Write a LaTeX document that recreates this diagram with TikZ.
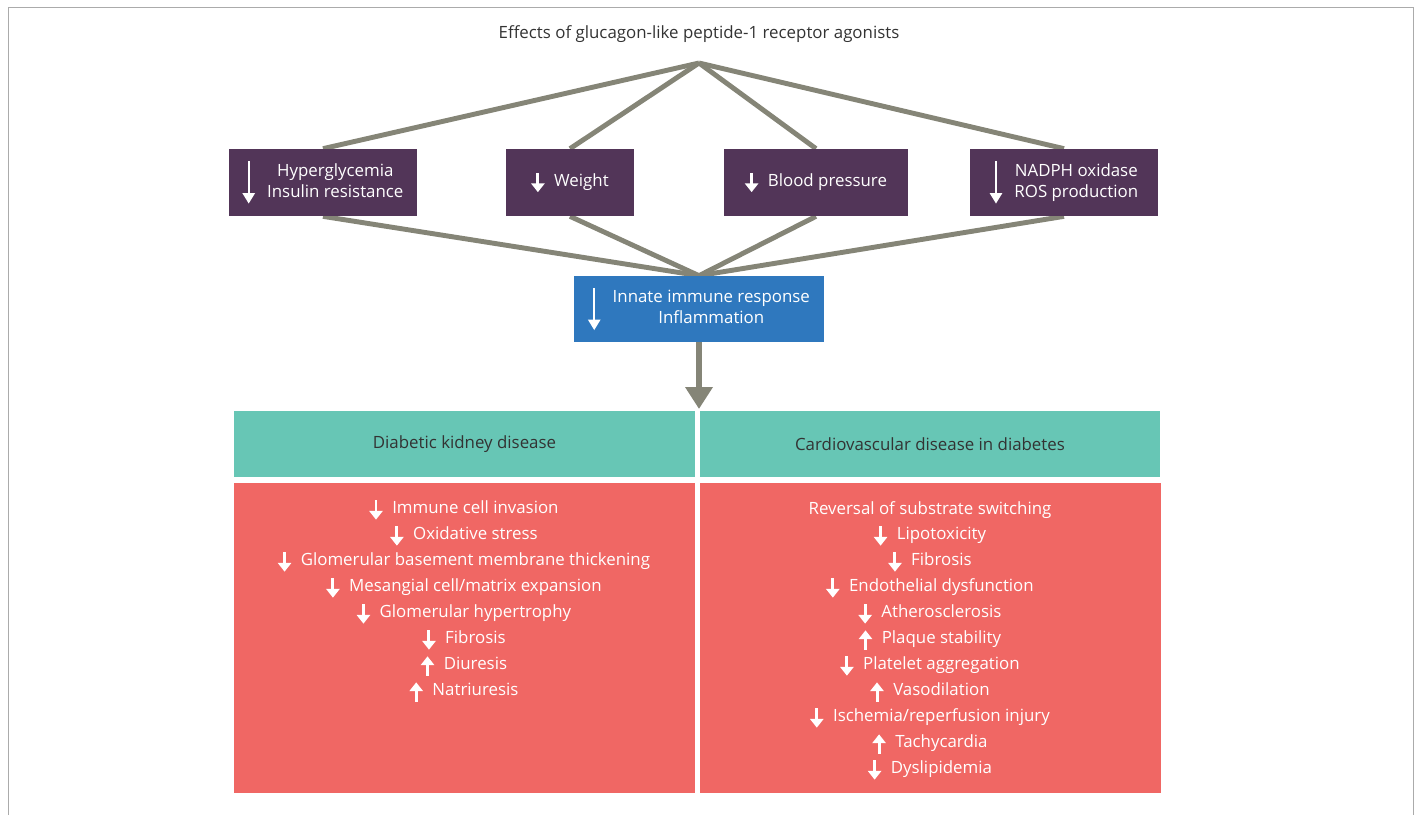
\documentclass[tikz,border=0pt]{standalone}
\usepackage{fontspec}
\setmainfont{Open Sans}
\usetikzlibrary{arrows.meta,backgrounds}

\definecolor{framegray}{HTML}{ABABAB}
\definecolor{linkgray}{HTML}{858577}
\definecolor{plum}{HTML}{523558}
\definecolor{immblue}{HTML}{2F78BE}
\definecolor{headteal}{HTML}{67C6B5}
\definecolor{effred}{HTML}{F06764}
\definecolor{titlegray}{HTML}{333333}

% small and tall white arrows used inside the boxes
\newcommand{\dn}{\tikz[baseline=0pt]\draw[white,line width=1.7pt,-{Triangle[length=5pt,width=7.5pt]}] (0,7.5pt) -- (0,-3.5pt);\hspace{5.5pt}}
\newcommand{\up}{\tikz[baseline=0pt]\draw[white,line width=1.7pt,-{Triangle[length=5pt,width=7.5pt]}] (0,-3.5pt) -- (0,7.5pt);\hspace{5.5pt}}
\newcommand{\tall}{\tikz[baseline=-2.6pt]\draw[white,line width=1.1pt,-{Triangle[length=6pt,width=7pt]}] (0,12pt) -- (0,-12pt);\hspace{7pt}}
\newcommand{\two}[2]{\begin{tabular}{@{}c@{}}#1\\#2\end{tabular}}

\tikzset{
  effect/.style={fill=plum, text=white, minimum height=1.34cm, inner sep=0pt},
  immune/.style={fill=immblue, text=white, minimum width=5cm, minimum height=1.32cm, inner sep=0pt},
  header/.style={fill=headteal, text=titlegray, minimum width=9.22cm, minimum height=1.32cm, inner sep=0pt},
  panel/.style={fill=effred, minimum width=9.22cm, minimum height=6.2cm, inner sep=0pt},
  listitem/.style={text=white, inner sep=0pt},
  link/.style={draw=linkgray, line width=2.8pt},
  bigarrow/.style={draw=linkgray, line width=3.4pt, -{Triangle[length=12.5pt,width=15pt]}}
}

\begin{document}
\begin{tikzpicture}[x=0.02cm, y=-0.02cm, font=\fontsize{9.6pt}{12pt}\selectfont]
  \useasboundingbox (0,0) rectangle (1416,815);
  \draw[framegray, line width=0.9pt] (8.5,815) -- (8.5,7.5) -- (1413.3,7.5) -- (1413.3,815);

  \node[text=titlegray] (title) at (699,34) {Effects of glucagon-like peptide-1 receptor agonists};
  \coordinate (apex) at (699,63);

  % effects
  \node[effect, minimum width=3.76cm] (glyc) at (323,182.5) {\tall\two{Hyperglycemia}{Insulin resistance}};
  \node[effect, minimum width=2.56cm] (weight) at (570,182.5) {\dn Weight};
  \node[effect, minimum width=3.68cm] (bp) at (816,182.5) {\dn Blood pressure};
  \node[effect, minimum width=3.76cm] (nadph) at (1064,182.5) {\tall\two{NADPH oxidase}{ROS production}};

  \node[immune] (innate) at (699,309) {\tall\two{Innate immune response}{Inflammation}};

  \begin{scope}[on background layer]
  \foreach \b in {glyc,weight,bp,nadph}{
    \draw[link] (apex) -- (\b.north);
    \draw[link] (\b.south) -- (innate.north);
  }
  \end{scope}

  \coordinate (split) at (699,409);
  \draw[bigarrow] (innate.south) -- (split);

  % outcomes
  \node[header] (kidhead) at (464.5,444) {Diabetic kidney disease};
  \node[header] (cvdhead) at (930,444) {Cardiovascular disease in diabetes};
  \node[panel] (kidney) at (464.5,638) {};
  \node[panel] (cardio) at (930.5,638) {};

  \foreach \txt [count=\i] in {\dn Immune cell invasion, \dn Oxidative stress,
      \dn Glomerular basement membrane thickening, \dn Mesangial cell/matrix expansion,
      \dn Glomerular hypertrophy, \dn Fibrosis, \up Diuresis, \up Natriuresis}
    \node[listitem] (kid\i) at (464,{484+26*\i}) {\txt};

  \foreach \txt [count=\i] in {Reversal of substrate switching, \dn Lipotoxicity, \dn Fibrosis,
      \dn Endothelial dysfunction, \dn Atherosclerosis, \up Plaque stability,
      \dn Platelet aggregation, \up Vasodilation, \dn Ischemia/reperfusion injury,
      \up Tachycardia, \dn Dyslipidemia}
    \node[listitem] (cvd\i) at (930,{484+26*\i}) {\txt};
\end{tikzpicture}
\end{document}
